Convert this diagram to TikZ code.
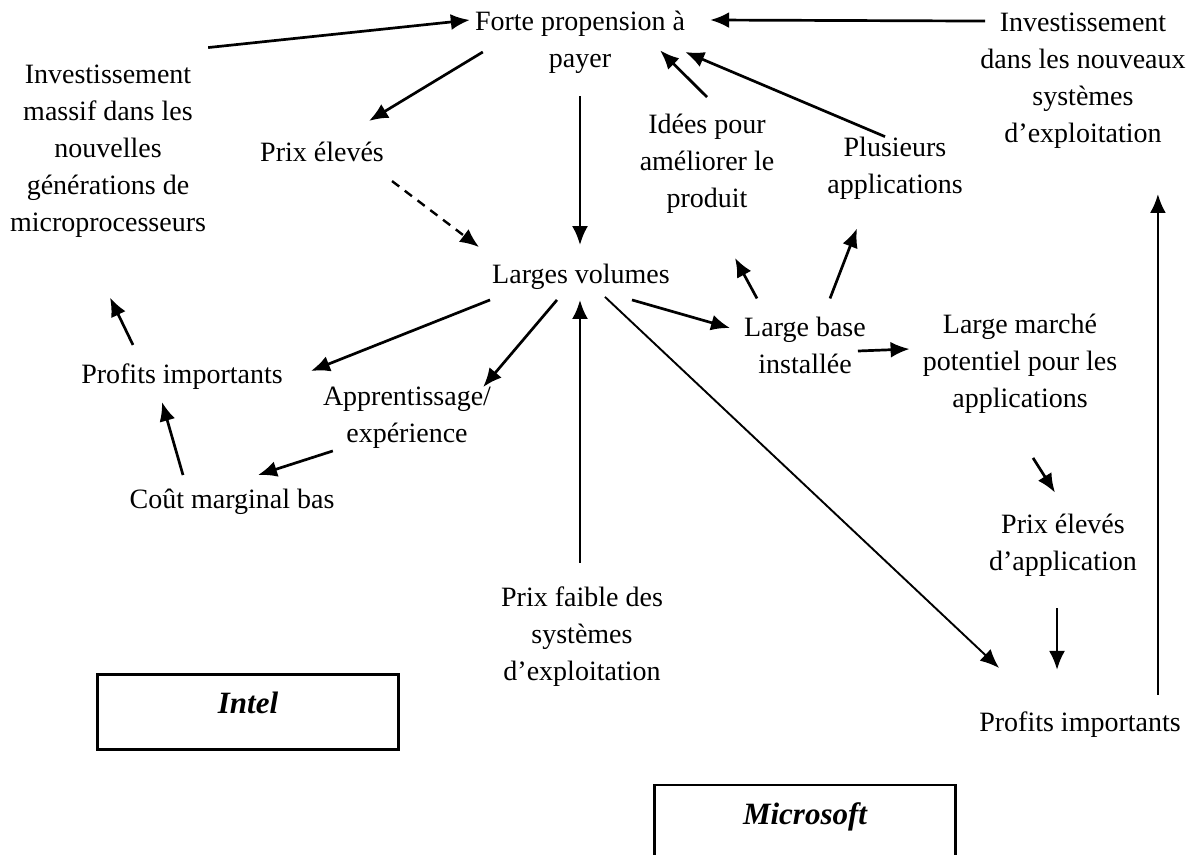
\documentclass[tikz,border=0pt]{standalone}
\usepackage{fontspec}
\setmainfont{Liberation Serif}
\usetikzlibrary{arrows.meta}

\begin{document}
\begin{tikzpicture}[x=1pt,y=-1pt]
        % Styles of the labels, of the links and of the two firm boxes
        \tikzset{
            txt/.style={align=center, inner sep=0pt, font=\fontsize{28}{37}\selectfont},
            arr/.style={line width=2.7pt, -{Latex[length=19pt,width=16pt]}},
            firm/.style={draw, line width=2.4pt, inner sep=0pt, minimum width=301pt,
                font=\fontsize{31}{37}\selectfont\bfseries\itshape},
        }

        % Page with the same margins as the scan
        \fill[white] (0,0) rectangle (1193,854);
        \useasboundingbox (0,0) rectangle (1193,854);

        % Intel side
        \node[txt] (invmassif) at (108,151) {Investissement\\massif dans les\\nouvelles\\générations de\\microprocesseurs};
        \node[txt] (prixel) at (322,152) {Prix élevés};
        \node[txt] (profl) at (182,377) {Profits importants};
        \node[txt] (appr) at (407,418) {Apprentissage/\\expérience};
        \node[txt] (cout) at (232,502) {Coût marginal bas};

        % Middle column
        \node[txt] (forte) at (580,42) {Forte propension à\\payer};
        \node[txt] (volumes) at (581,277) {Larges volumes};
        \node[txt] (prixfaible) at (582,637) {Prix faible des\\systèmes\\d’exploitation};

        % Microsoft side
        \node[txt] (idees) at (707,164) {Idées pour\\améliorer le\\produit};
        \node[txt] (plusieurs) at (895,168) {Plusieurs\\applications};
        \node[txt] (invos) at (1083,81) {Investissement\\dans les nouveaux\\systèmes\\d’exploitation};
        \node[txt] (base) at (805,345) {Large base\\installée};
        \node[txt] (marche) at (1020,364) {Large marché\\potentiel pour les\\applications};
        \node[txt] (prixapp) at (1063,545) {Prix élevés\\d’application};
        \node[txt] (profr) at (1080,725) {Profits importants};

        % The two firms
        \node[firm, text height=39pt, text depth=36pt] (intel) at (248,712) {Intel};
        \node[firm, text height=39pt, text depth=41pt] (microsoft) at (805,825) {Microsoft};

        % Links around the willingness to pay
        \begin{scope}
            \draw[arr] ([shift={(2,-17)}]invmassif.north east) -- ([shift={(-5,-22)}]forte.west);
            \draw[arr] ([shift={(8,10)}]forte.west) -- ([shift={(-15,-21)}]prixel.north east);
            \draw[arr] ([shift={(0,23)}]forte.south) -- ([shift={(-1,-19)}]volumes.north);
            \draw[arr] ([shift={(5,8)}]invos.north west) -- ([shift={(25,-22)}]forte.east);
            \draw[arr] ([shift={(0,-17)}]idees.north) -- ([shift={(-25,-23)}]forte.south east);
            \draw[arr] ([shift={(-10,0)}]plusieurs.north) -- ([shift={(0,10)}]forte.east);
        \end{scope}

        % Weak link from the high prices
        \draw[arr, line width=2.4pt, dash pattern=on 9pt off 7pt]
            ([shift={(8,19)}]prixel.south east) -- ([shift={(-13,-17)}]volumes.north west);

        % Links of the Intel loop
        \begin{scope}
            \draw[arr] ([shift={(-2,10)}]volumes.south west) -- ([shift={(28,-6)}]profl.east);
            \draw[arr] ([shift={(-24,10)}]volumes.south) -- ([shift={(-8,0)}]appr.north east);
            \draw[arr] ([shift={(10,2)}]appr.south west) -- ([shift={(26,-14)}]cout.north);
            \draw[arr] ([shift={(-49,-14)}]cout.north) -- ([shift={(-20,12)}]profl.south);
            \draw[arr] ([shift={(-49,-19)}]profl.north) -- ([shift={(2,60)}]invmassif.south);
            \draw[arr] ([shift={(-2,-24)}]prixfaible.north) -- ([shift={(-1,10)}]volumes.south);
        \end{scope}

        % Links of the Microsoft loop
        \begin{scope}
            \draw[arr] ([shift={(-38,10)}]volumes.south east) -- ([shift={(-14,-17)}]base.west);
            \draw[arr] ([shift={(-48,-18)}]base.north) -- ([shift={(28,44)}]idees.south);
            \draw[arr] ([shift={(25,-18)}]base.north) -- ([shift={(-38,29)}]plusieurs.south);
            \draw[arr] ([shift={(-8,6)}]base.east) -- ([shift={(-13,-15)}]marche.west);
            \draw[arr] ([shift={(13,44)}]marche.south) -- ([shift={(-8,-21)}]prixapp.north);
            \draw[arr, shorten >=42pt] ([shift={(-6,32)}]prixapp.south) coordinate (pa) -- (pa |- profr.north);
            \draw[arr, shorten >=45pt] ([shift={(-23,-17)}]profr.north east) coordinate (pr) -- (pr |- invos.south);
            \draw[arr, line width=1.9pt] ([shift={(24,7)}]volumes.south) -- ([shift={(20,-44)}]profr.north west);
        \end{scope}

\end{tikzpicture}
\end{document}
